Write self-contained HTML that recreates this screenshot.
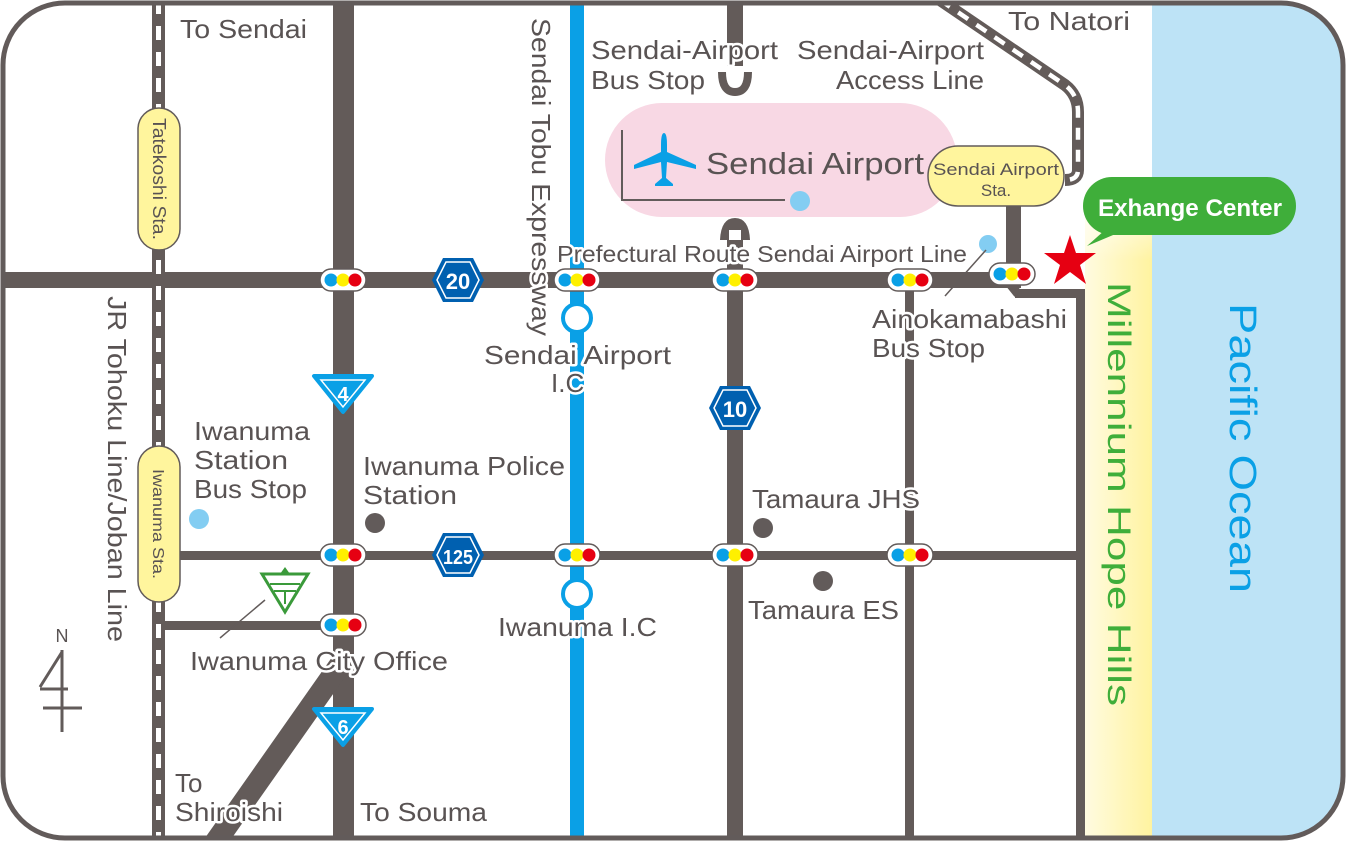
<!DOCTYPE html>
<html><head><meta charset="utf-8"><style>
html,body{margin:0;padding:0;background:#fff}
svg{display:block}
text{font-family:"Liberation Sans",sans-serif;fill:#595353}
.h{stroke:#fff;stroke-width:5px;paint-order:stroke;stroke-linejoin:round}
</style></head><body>
<svg width="1346" height="841" viewBox="0 0 1346 841" xmlns="http://www.w3.org/2000/svg">
<defs>
<linearGradient id="beach" x1="0" x2="1" y1="0" y2="0"><stop offset="0" stop-color="#fffbe0"/><stop offset="1" stop-color="#fff3a0"/></linearGradient>
<linearGradient id="beachv" x1="0" x2="0" y1="0" y2="1"><stop offset="0" stop-color="#fff" stop-opacity="1"/><stop offset="1" stop-color="#fff" stop-opacity="0"/></linearGradient>
<clipPath id="frame"><rect x="3" y="3" width="1340" height="835" rx="62"/></clipPath>
<g id="tl"><rect x="-23" y="-11" width="46" height="22" rx="11" fill="#fff" stroke="#625b5a" stroke-width="1.5"/><circle cx="-12" cy="0" r="6.5" fill="#0aa0e6"/><circle cx="0" cy="0" r="6.5" fill="#fff000"/><circle cx="12" cy="0" r="6.5" fill="#e60012"/></g>
</defs>
<g clip-path="url(#frame)">
<rect x="1152" y="0" width="200" height="841" fill="#bde3f6"/>
<rect x="1085" y="180" width="67" height="661" fill="url(#beach)"/>
<rect x="1085" y="180" width="67" height="80" fill="url(#beachv)"/>
<rect x="605" y="103" width="352" height="114" rx="57" fill="#f8d8e4"/>
<g fill="#635b59">
<rect x="0" y="272" width="1018" height="16"/>
<rect x="333" y="0" width="21" height="841"/>
<rect x="727" y="0" width="16" height="66"/>
<rect x="727" y="240" width="16" height="601"/>
<rect x="905" y="280" width="9" height="561"/>
<rect x="1006" y="200" width="15" height="88"/>
<rect x="165" y="551" width="920" height="9"/>
<rect x="158" y="621" width="190" height="9"/>
<rect x="1076" y="289" width="9" height="552"/>
<rect x="1015" y="289" width="70" height="9"/>
</g>
<path d="M1010,284 L1018,294" stroke="#635b59" stroke-width="9"/>
<path d="M340,665 L210,850" stroke="#635b59" stroke-width="22"/>
<rect x="570" y="0" width="14" height="841" fill="#0aa0e6"/>
<rect x="152" y="0" width="13" height="841" fill="#635b59"/>
<line x1="158.5" y1="0" x2="158.5" y2="841" stroke="#fff" stroke-width="5" stroke-dasharray="14,12"/>
<path d="M940,0 L1065,85 Q1078,95 1078,112 L1078,170 Q1078,180 1065,180" fill="none" stroke="#635b59" stroke-width="12"/>
<path d="M940,0 L1065,85 Q1078,95 1078,112 L1078,170 Q1078,180 1065,180" fill="none" stroke="#fff" stroke-width="4.5" stroke-dasharray="12,10"/>
</g>
<rect x="3" y="3" width="1340" height="835" rx="62" fill="none" stroke="#625b5a" stroke-width="5"/>

<!-- bus stop marks -->
<path d="M722,72 Q722,92 735,92 Q748,92 748,72" fill="none" stroke="#635b59" stroke-width="8"/>
<path d="M720,240 Q721,218 735,218 Q749,218 750,240 Z" fill="#635b59"/>
<rect x="729" y="230" width="12" height="10" fill="#fff"/>

<path d="M622,130 L622,200 L785,200" fill="none" stroke="#625b5a" stroke-width="2"/>
<circle cx="800" cy="201" r="10" fill="#83cdf2"/>
<path fill="#0aa0e6" d="M664,133 Q667,133 667,145 L667,152 L696,165 L696,169 L667,162 L666,178 L673,184 L673,186 L655,186 L655,184 L662,178 L661,162 L634,169 L634,165 L661,152 L661,145 Q661,133 664,133 Z"/>
<text x="706" y="174" font-size="31" textLength="218" lengthAdjust="spacingAndGlyphs">Sendai Airport</text>

<rect x="928" y="146" width="136" height="60" rx="30" fill="#fff59d" stroke="#625b5a" stroke-width="1.5"/>
<text x="996" y="175" font-size="17" text-anchor="middle" textLength="126" lengthAdjust="spacingAndGlyphs">Sendai Airport</text>
<text x="996" y="196" font-size="17" text-anchor="middle">Sta.</text>
<rect x="138" y="108" width="42" height="142" rx="21" fill="#fff59d" stroke="#625b5a" stroke-width="1.5"/>
<text transform="translate(153,179) rotate(90)" font-size="18" text-anchor="middle" textLength="122" lengthAdjust="spacingAndGlyphs">Tatekoshi Sta.</text>
<rect x="138" y="446" width="42" height="156" rx="21" fill="#fff59d" stroke="#625b5a" stroke-width="1.5"/>
<text transform="translate(153,524) rotate(90)" font-size="16" text-anchor="middle" textLength="110" lengthAdjust="spacingAndGlyphs">Iwanuma Sta.</text>

<use href="#tl" x="343" y="280"/><use href="#tl" x="577" y="280"/><use href="#tl" x="735" y="280"/>
<use href="#tl" x="910" y="280"/><use href="#tl" x="1012" y="274"/>
<use href="#tl" x="343" y="555"/><use href="#tl" x="577" y="555"/><use href="#tl" x="735" y="555"/>
<use href="#tl" x="910" y="555"/><use href="#tl" x="343" y="625"/>

<circle cx="577" cy="318" r="14" fill="#fff" stroke="#0aa0e6" stroke-width="4"/>
<circle cx="577" cy="594" r="14" fill="#fff" stroke="#0aa0e6" stroke-width="4"/>

<g>
<path d="M432,280 L443,258 L473,258 L484,280 L473,302 L443,302 Z" fill="#0060b0"/>
<path d="M437,280 L446,262 L470,262 L479,280 L470,298 L446,298 Z" fill="none" stroke="#fff" stroke-width="1.5"/>
<text x="458" y="289" font-size="22" text-anchor="middle" style="fill:#fff" font-weight="bold">20</text>
<path d="M432,555 L443,533 L473,533 L484,555 L473,577 L443,577 Z" fill="#0060b0"/>
<path d="M437,555 L446,537 L470,537 L479,555 L470,573 L446,573 Z" fill="none" stroke="#fff" stroke-width="1.5"/>
<text x="458" y="564" font-size="20" text-anchor="middle" style="fill:#fff" font-weight="bold" textLength="30" lengthAdjust="spacingAndGlyphs">125</text>
<path d="M709,408 L720,386 L750,386 L761,408 L750,430 L720,430 Z" fill="#0060b0"/>
<path d="M714,408 L723,390 L747,390 L756,408 L747,426 L723,426 Z" fill="none" stroke="#fff" stroke-width="1.5"/>
<text x="735" y="417" font-size="22" text-anchor="middle" style="fill:#fff" font-weight="bold">10</text>
<path d="M314,376 L372,376 L343,412 Z" fill="#0aa0e6" stroke="#0aa0e6" stroke-width="4" stroke-linejoin="round"/>
<path d="M321,380 L365,380 L343,407 Z" fill="none" stroke="#fff" stroke-width="1.5"/>
<text x="343" y="401" font-size="20" text-anchor="middle" style="fill:#fff" font-weight="bold">4</text>
<path d="M314,709 L372,709 L343,745 Z" fill="#0aa0e6" stroke="#0aa0e6" stroke-width="4" stroke-linejoin="round"/>
<path d="M321,713 L365,713 L343,740 Z" fill="none" stroke="#fff" stroke-width="1.5"/>
<text x="343" y="734" font-size="20" text-anchor="middle" style="fill:#fff" font-weight="bold">6</text>
</g>

<circle cx="199" cy="519" r="10" fill="#83cdf2"/>
<circle cx="988" cy="244" r="9" fill="#83cdf2"/>
<circle cx="375" cy="523" r="10" fill="#625b5a"/>
<circle cx="763" cy="528" r="10" fill="#625b5a"/>
<circle cx="823" cy="581" r="10" fill="#625b5a"/>
<line x1="986" y1="250" x2="945" y2="296" stroke="#625b5a" stroke-width="1.5"/>
<line x1="265" y1="600" x2="220" y2="638" stroke="#625b5a" stroke-width="1.5"/>

<path d="M262,574 L308,574 L285,612 Z" fill="none" stroke="#3a9a3a" stroke-width="3"/>
<path d="M280,574 L285,567 L290,574" fill="#3a9a3a"/>
<path d="M270,584 L300,584 M274,591 L296,591 M285,591 L285,604" stroke="#3a9a3a" stroke-width="2"/>

<path d="M1070,235 L1076,253 L1096,253 L1080,265 L1086,284 L1070,272 L1054,284 L1060,265 L1044,253 L1064,253 Z" fill="#e60012"/>
<rect x="1083" y="177" width="213" height="58" rx="29" fill="#3fae3a"/>
<path d="M1105,230 L1087,246 L1125,230 Z" fill="#3fae3a"/>
<text x="1190" y="216" font-size="24" text-anchor="middle" style="fill:#fff" font-weight="bold" textLength="184" lengthAdjust="spacingAndGlyphs">Exhange Center</text>

<g stroke="#625b5a" stroke-width="3" fill="none">
<path d="M62,650 L62,732 M40,689 L68,689 M43,708 L82,708 M40,687 L62,652"/>
</g>
<text x="62" y="642" font-size="18" text-anchor="middle">N</text>

<g font-size="26" class="h">
<text x="180" y="38" textLength="127" lengthAdjust="spacingAndGlyphs">To Sendai</text>
<text x="591" y="59" textLength="187" lengthAdjust="spacingAndGlyphs">Sendai-Airport</text>
<text x="591" y="89" textLength="114" lengthAdjust="spacingAndGlyphs">Bus Stop</text>
<text x="797" y="59" textLength="187" lengthAdjust="spacingAndGlyphs">Sendai-Airport</text>
<text x="836" y="89" textLength="148" lengthAdjust="spacingAndGlyphs">Access Line</text>
<text x="1008" y="30" textLength="122" lengthAdjust="spacingAndGlyphs">To Natori</text>
<text x="557" y="262" font-size="23" textLength="410" lengthAdjust="spacingAndGlyphs">Prefectural Route Sendai Airport Line</text>
<text x="872" y="328" textLength="195" lengthAdjust="spacingAndGlyphs">Ainokamabashi</text>
<text x="872" y="357" textLength="113" lengthAdjust="spacingAndGlyphs">Bus Stop</text>
<text x="484" y="364" textLength="187" lengthAdjust="spacingAndGlyphs">Sendai Airport</text>
<text x="551" y="392">I.C</text>
<text x="194" y="440" textLength="116" lengthAdjust="spacingAndGlyphs">Iwanuma</text>
<text x="194" y="469" textLength="94" lengthAdjust="spacingAndGlyphs">Station</text>
<text x="194" y="498" textLength="113" lengthAdjust="spacingAndGlyphs">Bus Stop</text>
<text x="363" y="475" textLength="202" lengthAdjust="spacingAndGlyphs">Iwanuma Police</text>
<text x="363" y="504" textLength="94" lengthAdjust="spacingAndGlyphs">Station</text>
<text x="752" y="508" textLength="168" lengthAdjust="spacingAndGlyphs">Tamaura JHS</text>
<text x="748" y="619" textLength="151" lengthAdjust="spacingAndGlyphs">Tamaura ES</text>
<text x="498" y="636" textLength="159" lengthAdjust="spacingAndGlyphs">Iwanuma I.C</text>
<text x="190" y="670" textLength="258" lengthAdjust="spacingAndGlyphs">Iwanuma City Office</text>
<text x="175" y="792">To</text>
<text x="175" y="821" textLength="108" lengthAdjust="spacingAndGlyphs">Shiroishi</text>
<text x="360" y="821" textLength="127" lengthAdjust="spacingAndGlyphs">To Souma</text>
<text transform="translate(532,18) rotate(90)" textLength="318" lengthAdjust="spacingAndGlyphs">Sendai Tobu Expressway</text>
<text transform="translate(108,296) rotate(90)" textLength="346" lengthAdjust="spacingAndGlyphs">JR Tohoku Line/Joban Line</text>
</g>
<text transform="translate(1108,282) rotate(90)" font-size="32" style="fill:#3fae3a" textLength="424" lengthAdjust="spacingAndGlyphs">Millennium Hope Hills</text>
<text transform="translate(1230,303) rotate(90)" font-size="38" style="fill:#0aa0e6" textLength="290" lengthAdjust="spacingAndGlyphs">Pacific Ocean</text>
</svg>
</body></html>
